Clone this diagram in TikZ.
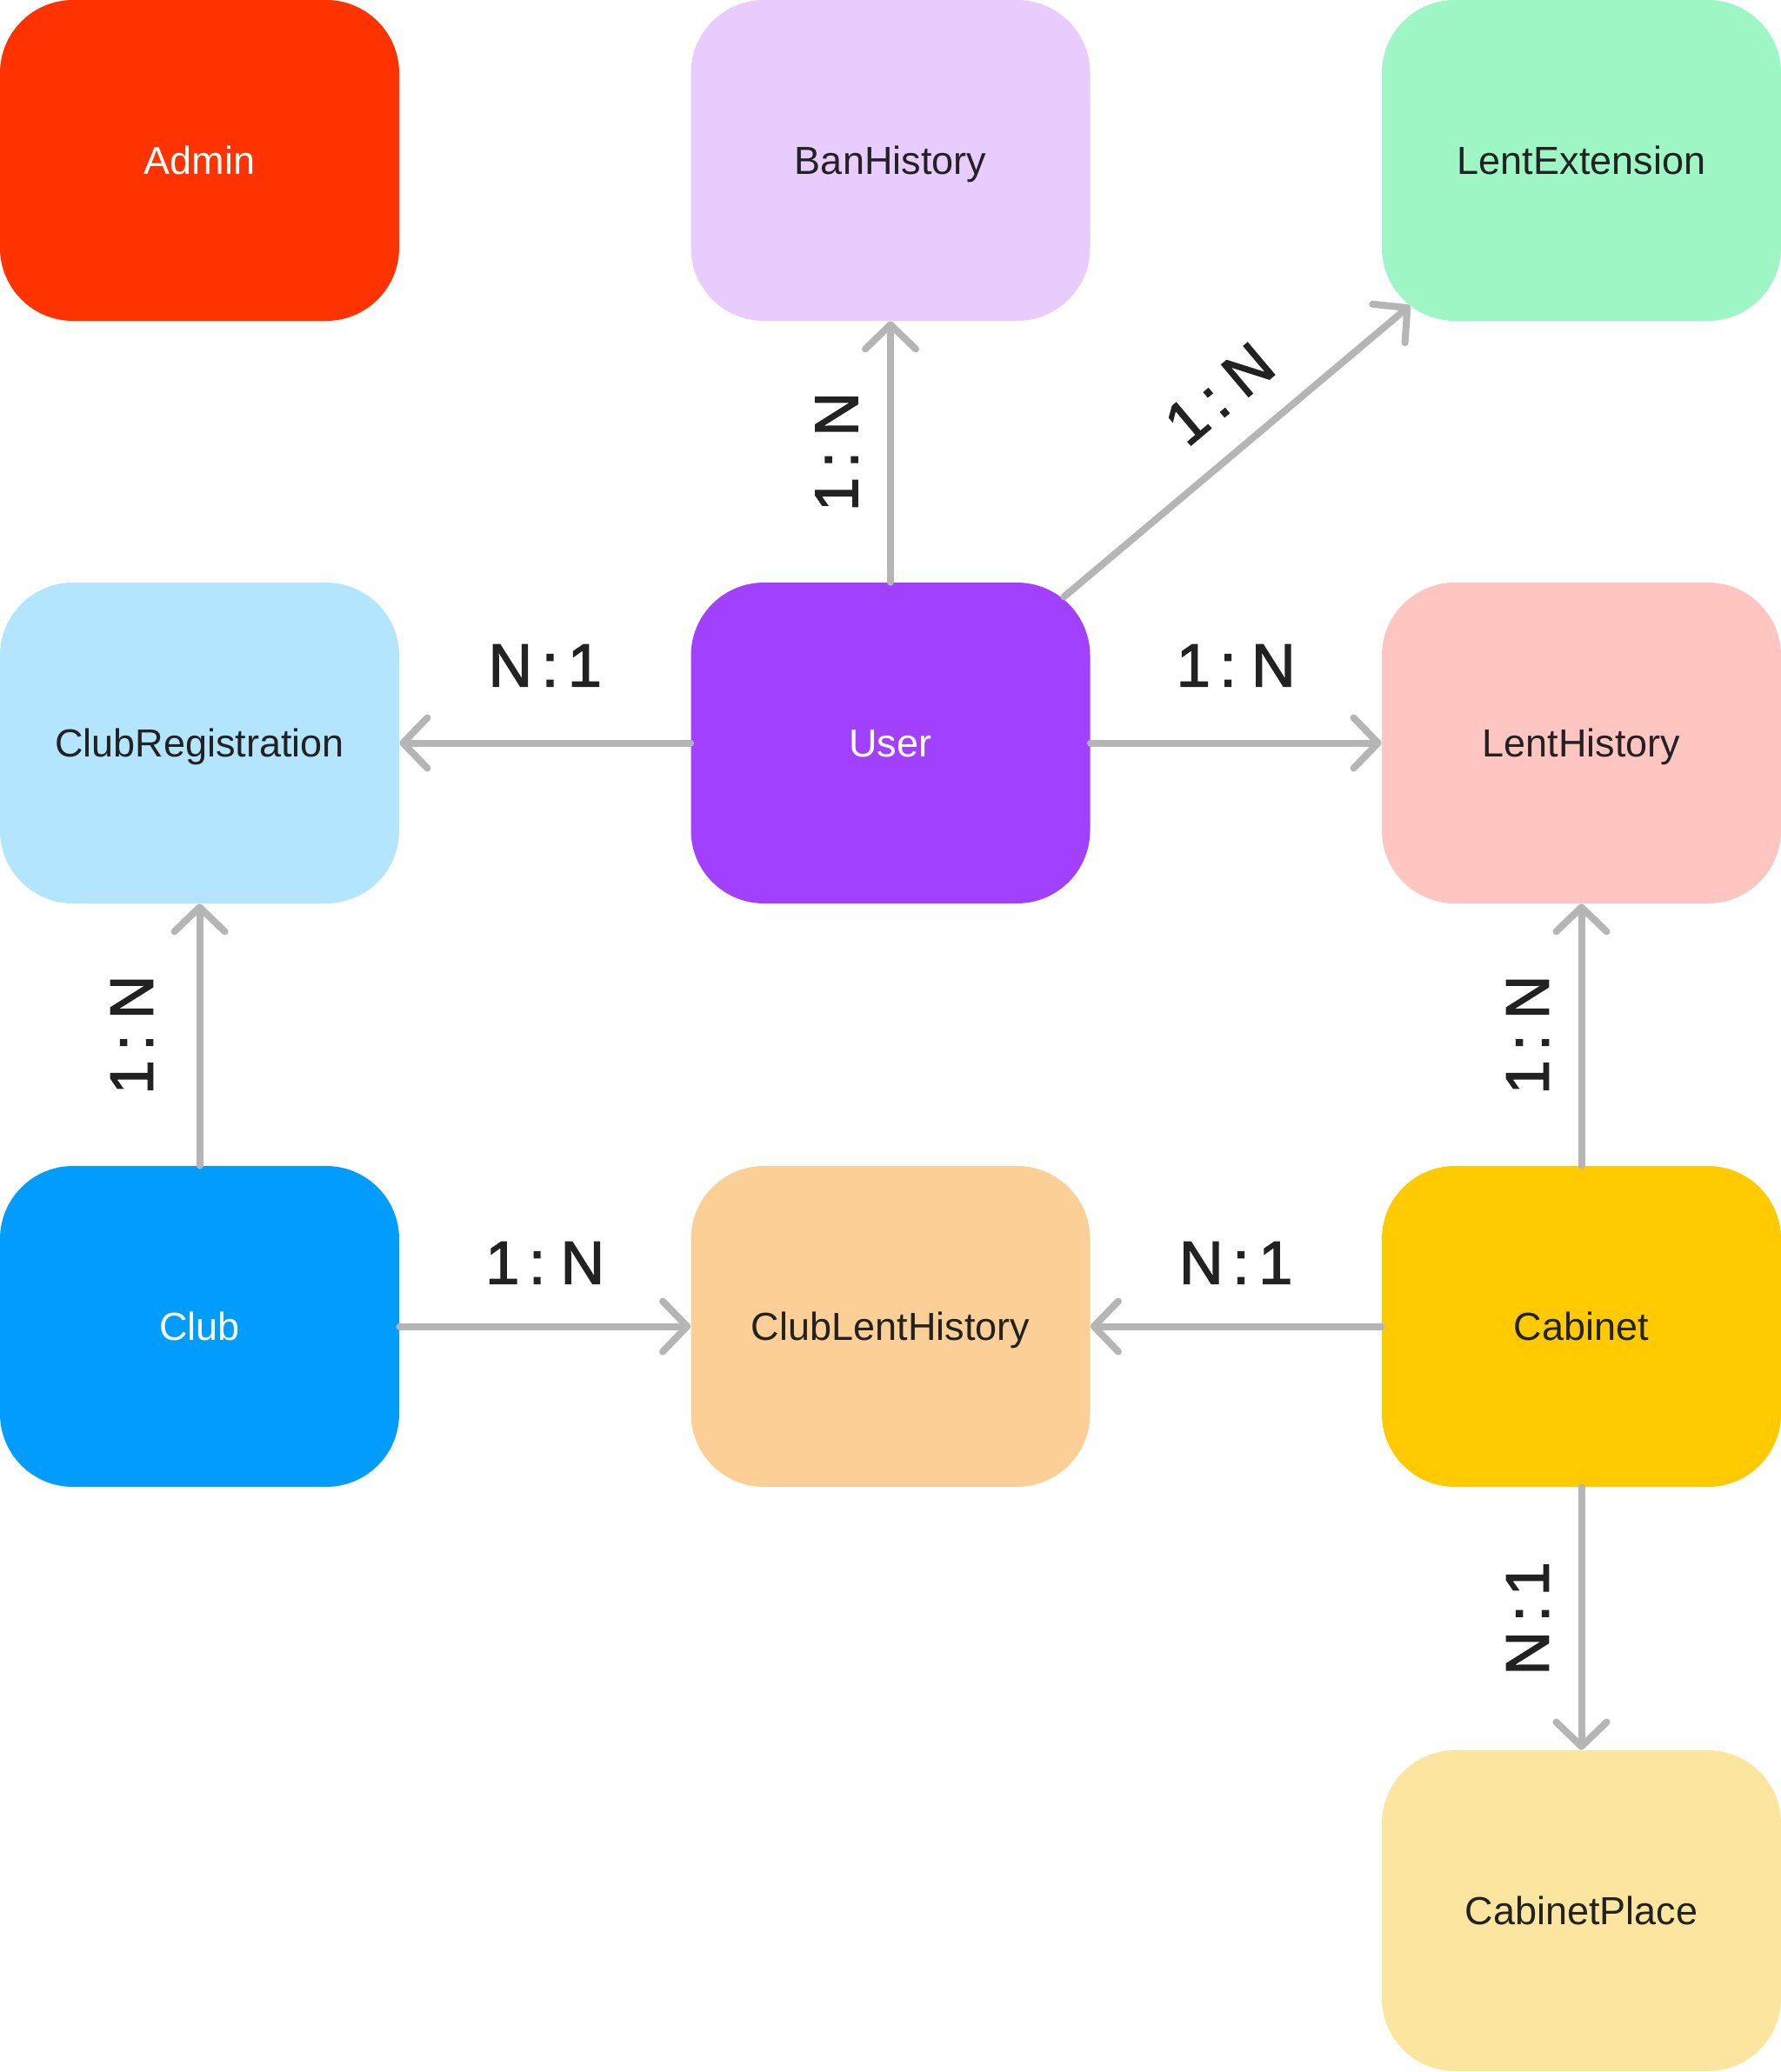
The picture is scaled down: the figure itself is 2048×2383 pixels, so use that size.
\documentclass[tikz,border=0pt]{standalone}
\usepackage{fontspec}
\setmainfont{Liberation Sans}
\newfontfamily\relfont{Liberation Sans}[FakeBold=2, WordSpace=0.55]
\usetikzlibrary{arrows.meta}
\definecolor{ink}{HTML}{222222}
\definecolor{wire}{HTML}{B5B5B5}
\definecolor{cAdmin}{HTML}{FF3300}
\definecolor{cBan}{HTML}{E8CCFE}
\definecolor{cExt}{HTML}{9DF6C4}
\definecolor{cReg}{HTML}{B3E5FE}
\definecolor{cUser}{HTML}{A240FF}
\definecolor{cLent}{HTML}{FFC5C1}
\definecolor{cClub}{HTML}{009DFF}
\definecolor{cClubLent}{HTML}{FCCF96}
\definecolor{cCab}{HTML}{FFCB00}
\definecolor{cPlace}{HTML}{FCE69F}
\tikzset{entity/.style={rectangle, fill=#1, rounded corners=42pt, minimum width=229.5pt, minimum height=184.5pt, inner sep=0pt, text height=16.1pt, text depth=0pt, text=ink, font=\fontsize{22.5}{27}\selectfont},
  rel/.style={draw=wire, line width=4pt, line cap=round, -{Straight Barb[length=14pt, width=29pt, round]}},
  card/.style={text=ink, inner sep=0pt, font=\relfont\fontsize{35}{40}\selectfont}}

\begin{document}
\begin{tikzpicture}[x=0.5pt, y=-0.5pt]
  \useasboundingbox (0,0) rectangle (2048,2383);
  \node[entity=cAdmin, text=white] (admin)    at ( 229.5, 184.5) {Admin};
  \node[entity=cBan]               (ban)      at (1024.0, 184.5) {BanHistory};
  \node[entity=cExt]               (ext)      at (1818.5, 184.5) {LentExtension};
  \node[entity=cReg]               (reg)      at ( 229.5, 854.5) {ClubRegistration};
  \node[entity=cUser, text=white]  (user)     at (1024.0, 854.5) {User};
  \node[entity=cLent]              (lent)     at (1818.5, 854.5) {LentHistory};
  \node[entity=cClub, text=white]  (club)     at ( 229.5,1525.5) {Club};
  \node[entity=cClubLent]          (clublent) at (1024.0,1525.5) {ClubLentHistory};
  \node[entity=cCab]               (cab)      at (1818.5,1525.5) {Cabinet};
  \node[entity=cPlace]             (place)    at (1818.5,2197.5) {CabinetPlace};
  \draw[rel] (user) -- (ban) node[card, midway, xshift=-31pt, rotate=90] {1 : N};
  \draw[rel, shorten <=-13pt, shorten >=-14pt] (user) -- (ext) node[card, pos=0.56, sloped, yshift=31.7pt] {1 : N};
  \draw[rel] (user) -- (reg) node[card, midway, above=30.5pt] {N : 1};
  \draw[rel] (user) -- (lent) node[card, midway, above=30.5pt] {1 : N};
  \draw[rel] (club) -- (reg) node[card, midway, xshift=-39pt, rotate=90] {1 : N};
  \draw[rel] (club) -- (clublent) node[card, midway, above=22.5pt] {1 : N};
  \draw[rel] (cab) -- (clublent) node[card, midway, above=22.5pt] {N : 1};
  \draw[rel] (cab) -- (lent) node[card, midway, xshift=-31pt, rotate=90] {1 : N};
  \draw[rel] (cab) -- (place) node[card, midway, xshift=-31pt, rotate=90] {N : 1};
\end{tikzpicture}
\end{document}
